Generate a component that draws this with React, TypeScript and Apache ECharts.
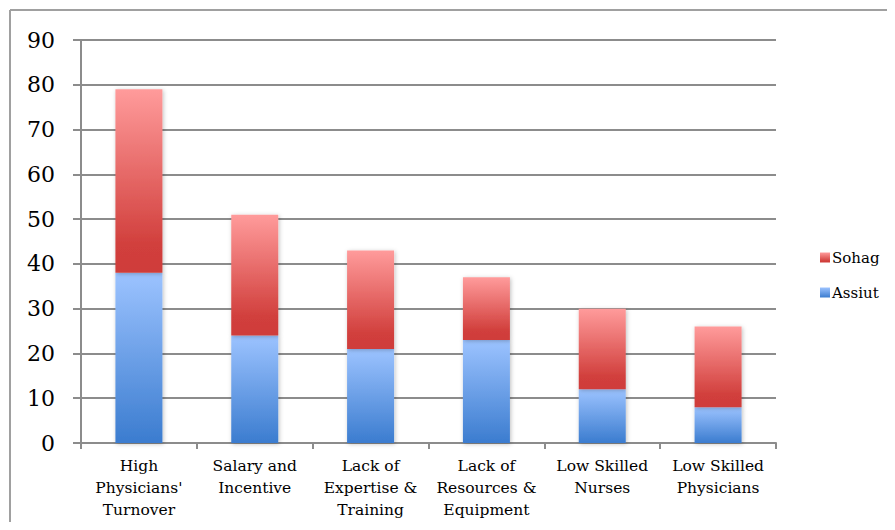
import React, { useEffect, useRef } from "react";
import * as echarts from "echarts";

// Barriers reported per governorate (stacked counts)
const categories = [
  "High\nPhysicians'\nTurnover",
  "Salary and\nIncentive",
  "Lack of\nExpertise &\nTraining",
  "Lack of\nResources &\nEquipment",
  "Low Skilled\nNurses",
  "Low Skilled\nPhysicians",
];
const assiut = [38, 24, 21, 23, 12, 8];
const sohag = [41, 27, 22, 14, 18, 18];
const yTicks = { min: 0, max: 90, interval: 10 };

const FONT = "'DejaVu Serif', serif";
const GRID = "#8c8c8c";

const blueFill = new echarts.graphic.LinearGradient(0, 0, 0, 1, [
  { offset: 0, color: "#9cc3ff" },
  { offset: 1, color: "#3b7ccf" },
]);
const redFill = new echarts.graphic.LinearGradient(0, 0, 0, 1, [
  { offset: 0, color: "#ff9b9b" },
  { offset: 0.85, color: "#d13f3c" },
  { offset: 1, color: "#cf3c3a" },
]);

export default function App() {
  const ref = useRef<HTMLDivElement>(null);

  useEffect(() => {
    if (!ref.current) return;
    const chart = echarts.init(ref.current, null, { renderer: "svg" });
    const barShadow = {
      shadowColor: "rgba(0,0,0,0.25)",
      shadowBlur: 4,
      shadowOffsetX: 1,
      shadowOffsetY: 1,
    };
    chart.setOption({
      animation: false,
      backgroundColor: "#ffffff",
      graphic: [
        {
          type: "line",
          shape: { x1: 10, y1: 10, x2: 895, y2: 10 },
          style: { stroke: "#a0a0a0", lineWidth: 2 },
        },
        {
          type: "line",
          shape: { x1: 10, y1: 10, x2: 10, y2: 530 },
          style: { stroke: "#a0a0a0", lineWidth: 2 },
        },
      ],
      grid: { left: 81, top: 40, right: 119, bottom: 87, containLabel: false },
      legend: {
        orient: "vertical",
        left: 815,
        top: 245,
        data: ["Sohag", "Assiut"],
        itemWidth: 10,
        itemHeight: 10,
        itemGap: 20,
        icon: "rect",
        textStyle: { fontFamily: FONT, fontSize: 15, color: "#000", padding: [0, 0, 0, -3] },
      },
      xAxis: {
        type: "category",
        data: categories,
        axisLine: { lineStyle: { color: GRID, width: 2 } },
        axisTick: { show: true, length: 6, lineStyle: { color: GRID, width: 2 } },
        axisLabel: {
          fontFamily: FONT,
          fontSize: 15.5,
          color: "#000",
          lineHeight: 22,
          margin: 12,
          interval: 0,
        },
      },
      yAxis: {
        type: "value",
        min: yTicks.min,
        max: yTicks.max,
        interval: yTicks.interval,
        axisLine: { show: true, lineStyle: { color: GRID, width: 2 } },
        axisTick: { show: true, length: 8, lineStyle: { color: GRID, width: 2 } },
        splitLine: { lineStyle: { color: GRID, width: 2 } },
        axisLabel: { fontFamily: FONT, fontSize: 22, color: "#000", margin: 26 },
      },
      series: [
        {
          name: "Assiut",
          type: "bar",
          stack: "total",
          barWidth: 47,
          data: assiut,
          itemStyle: { color: blueFill, ...barShadow },
        },
        {
          name: "Sohag",
          type: "bar",
          stack: "total",
          barWidth: 47,
          data: sohag,
          itemStyle: { color: redFill, ...barShadow },
        },
      ],
    });
    return () => chart.dispose();
  }, []);

  return <div ref={ref} style={{ width: 895, height: 530, margin: -8 }} />;
}
